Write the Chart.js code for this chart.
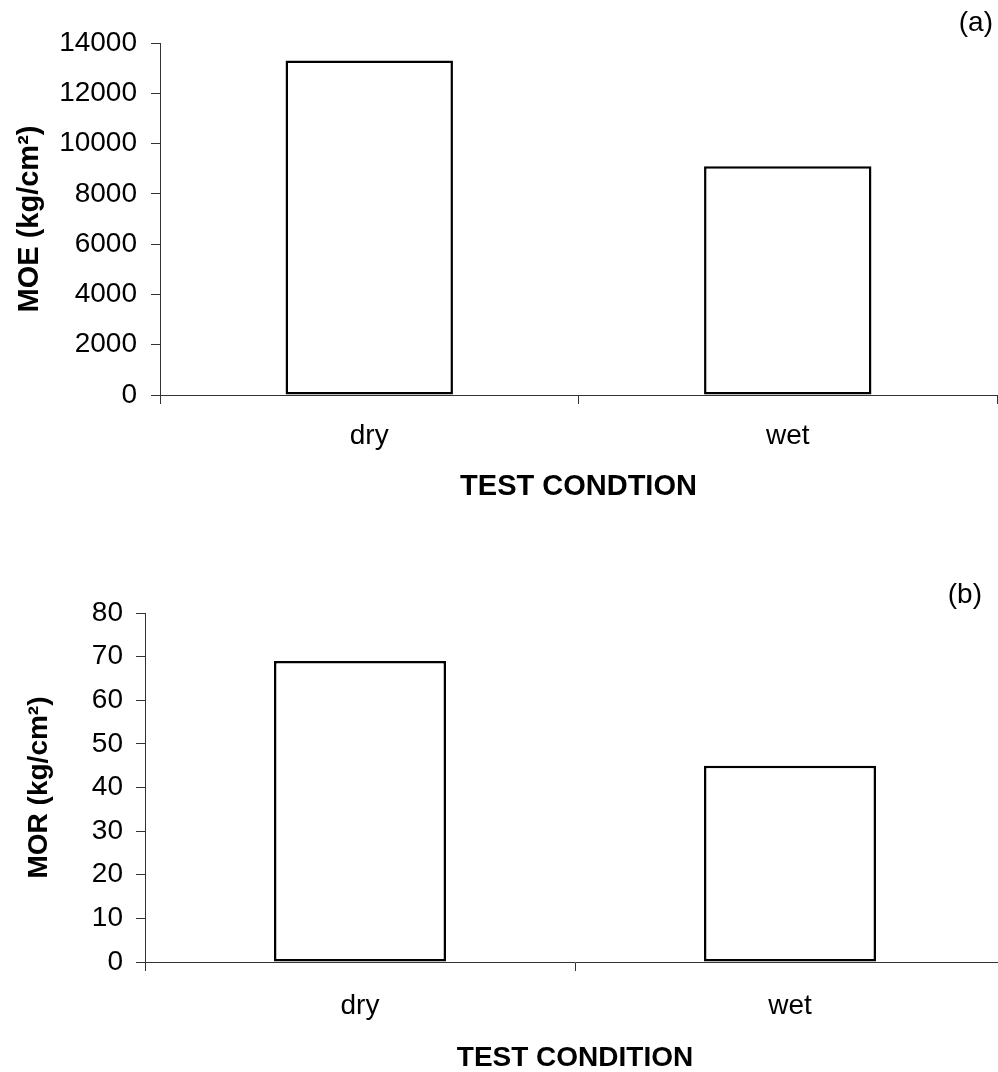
<!DOCTYPE html>
<html>
<head>
<meta charset="utf-8">
<title>MOE and MOR by test condition</title>
<script src="https://cdn.jsdelivr.net/npm/chart.js@4/dist/chart.umd.min.js"></script>
<style>
  html, body { margin: 0; padding: 0; background: #fff; overflow: hidden; }
  body { width: 998px; height: 1072px; position: relative; }
  .panel { position: absolute; left: 0; overflow: hidden; width: 998px; }
  #wrapA { top: 0; height: 520px; }
  #wrapB { top: 520px; height: 552px; }
  canvas { display: block; }
</style>
</head>
<body>
<div class="panel" id="wrapA"><canvas id="chartA" width="998" height="520"></canvas></div>
<div class="panel" id="wrapB"><canvas id="chartB" width="1010" height="552"></canvas></div>
<script>
// Test conditions and measured strength values
const conditions = ['dry', 'wet'];
const moeValues = [13300, 9100];   // modulus of elasticity, kg/cm²
const morValues = [69, 45];        // modulus of rupture, kg/cm²

const moeAxis = { min: 0, max: 14000, step: 2000 };
const morAxis = { min: 0, max: 80, step: 10 };

Chart.defaults.font.family = "'Liberation Sans', Arial, Helvetica, sans-serif";
Chart.defaults.color = '#000';

// Writes the panel letter in the upper right corner
const panelLabel = {
  id: 'panelLabel',
  afterDraw(chart, args, opts) {
    const ctx = chart.ctx;
    ctx.save();
    ctx.font = opts.size + "px 'Liberation Sans', Arial, sans-serif";
    ctx.fillStyle = '#000';
    ctx.textAlign = 'right';
    ctx.textBaseline = 'middle';
    ctx.fillText(opts.text, opts.x, opts.y);
    ctx.restore();
  }
};

function buildChart(canvasId, cfg) {
  return new Chart(document.getElementById(canvasId), {
    type: 'bar',
    data: {
      labels: conditions,
      datasets: [{
        data: cfg.values,
        backgroundColor: '#fff',
        borderColor: '#000',
        borderWidth: 2.5,
        borderSkipped: false,
        categoryPercentage: 1,
        barPercentage: 0.4
      }]
    },
    options: {
      responsive: false,
      animation: false,
      devicePixelRatio: 1,
      layout: { padding: cfg.padding },
      plugins: {
        legend: { display: false },
        tooltip: { enabled: false },
        panelLabel: cfg.label
      },
      scales: {
        x: {
          grid: { drawOnChartArea: false, tickLength: 9, color: '#333', offset: true },
          border: { color: '#333', width: 1 },
          ticks: { font: { size: 28 }, padding: cfg.xTickPad, color: '#000' },
          title: {
            display: true,
            text: cfg.xTitle,
            font: { size: cfg.xTitleSize, weight: 'bold', lineHeight: 1 },
            padding: { top: 0, bottom: cfg.xTitlePad },
            color: '#000'
          },
          afterFit(scale) { scale.height = cfg.xHeight; }
        },
        y: {
          min: cfg.axis.min,
          max: cfg.axis.max,
          grid: { drawOnChartArea: false, tickLength: 9, color: '#333' },
          border: { color: '#333', width: 1 },
          ticks: {
            stepSize: cfg.axis.step,
            font: { size: 28 },
            padding: cfg.yTickPad,
            color: '#000',
            callback: (v) => String(v)
          },
          title: {
            display: true,
            text: cfg.yTitle,
            font: { size: cfg.yTitleSize, weight: 'bold', lineHeight: 1 },
            padding: { top: cfg.yTitlePad, bottom: 0 },
            color: '#000'
          },
          afterFit(scale) { scale.width = cfg.yWidth; }
        }
      }
    },
    plugins: [panelLabel]
  });
}

// (a) modulus of elasticity
buildChart('chartA', {
  values: moeValues,
  axis: moeAxis,
  padding: { top: 43, right: 1, left: 0, bottom: 0 },
  xHeight: 125,
  yWidth: 160,
  xTickPad: 15,
  yTickPad: 14,
  xTitle: 'TEST CONDTION',
  xTitleSize: 29,
  xTitlePad: 19,
  yTitle: 'MOE (kg/cm²)',
  yTitleSize: 29,
  yTitlePad: 15,
  label: { text: '(a)', x: 993, y: 23, size: 28 }
});

// (b) modulus of rupture
buildChart('chartB', {
  values: morValues,
  axis: morAxis,
  padding: { top: 93, right: 5, left: 0, bottom: 0 },
  xHeight: 110,
  yWidth: 145,
  xTickPad: 18,
  yTickPad: 13,
  xTitle: 'TEST CONDITION',
  xTitleSize: 28,
  xTitlePad: 0,
  yTitle: 'MOR (kg/cm²)',
  yTitleSize: 28,
  yTitlePad: 25,
  label: { text: '(b)', x: 982, y: 75, size: 28 }
});
</script>
</body>
</html>
